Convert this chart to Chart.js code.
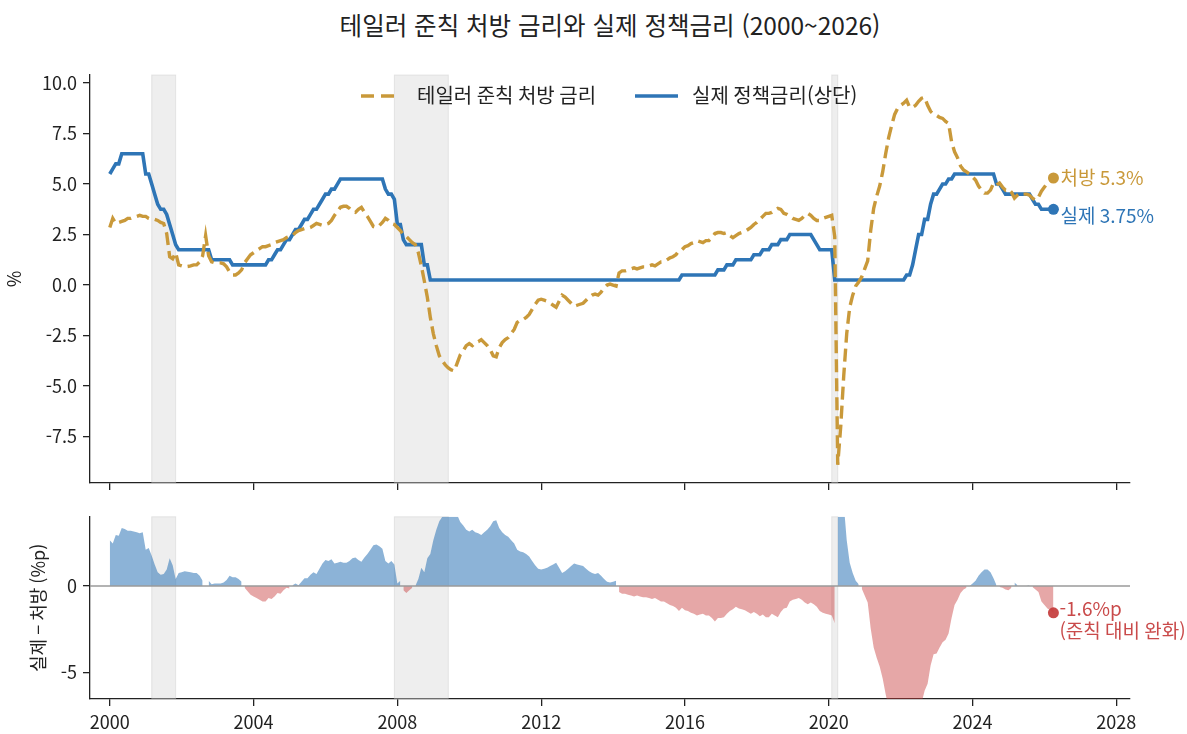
<!DOCTYPE html>
<html lang="ko">
<head>
<meta charset="UTF-8">
<title>테일러 준칙 처방 금리와 실제 정책금리</title>
<script src="https://cdn.jsdelivr.net/npm/chart.js"></script>
<style>
body {
    margin: 0;
    background: #fff;
    font-family: "Noto Sans CJK KR", sans-serif;
}

#wrap {
    position: relative;
    width: 1187px;
    height: 734px;
}

#title {
    position: absolute;
    top: 10px;
    left: 0;
    width: 1220px;
    text-align: center;
    font-size: 24.5px;
    line-height: 30px;
    color: #222;
}

canvas {
    position: absolute;
    left: 0;
}

#rateChart { top: 0; }
#gapChart { top: 500px; }
</style>
</head>
<body>
<div id="wrap">
    <div id="title">테일러 준칙 처방 금리와 실제 정책금리 (2000~2026)</div>
    <canvas id="rateChart" width="1187" height="500"></canvas>
    <canvas id="gapChart" width="1187" height="234"></canvas>
</div>

<script>
// monthly data, Jan 2000 .. Apr 2026
const startYear = 2000;

// fed funds target (upper bound), %
const actualRate = [
    5.5, 5.75, 6.0, 6.0, 6.5, 6.5, 6.5, 6.5, 6.5, 6.5, 6.5, 6.5,
    5.5, 5.5, 5.0, 4.5, 4.0, 3.75, 3.75, 3.5, 3.0, 2.5, 2.0, 1.75,
    1.75, 1.75, 1.75, 1.75, 1.75, 1.75, 1.75, 1.75, 1.75, 1.75, 1.25, 1.25,
    1.25, 1.25, 1.25, 1.25, 1.25, 1.0, 1.0, 1.0, 1.0, 1.0, 1.0, 1.0,
    1.0, 1.0, 1.0, 1.0, 1.0, 1.25, 1.25, 1.5, 1.75, 1.75, 2.0, 2.25,
    2.25, 2.5, 2.75, 2.75, 3.0, 3.25, 3.25, 3.5, 3.75, 3.75, 4.0, 4.25,
    4.5, 4.5, 4.75, 4.75, 5.0, 5.25, 5.25, 5.25, 5.25, 5.25, 5.25, 5.25,
    5.25, 5.25, 5.25, 5.25, 5.25, 5.25, 5.25, 5.25, 4.75, 4.5, 4.5, 4.25,
    3.0, 3.0, 2.25, 2.0, 2.0, 2.0, 2.0, 2.0, 2.0, 1.0, 1.0, 0.25,
    0.25, 0.25, 0.25, 0.25, 0.25, 0.25, 0.25, 0.25, 0.25, 0.25, 0.25, 0.25,
    0.25, 0.25, 0.25, 0.25, 0.25, 0.25, 0.25, 0.25, 0.25, 0.25, 0.25, 0.25,
    0.25, 0.25, 0.25, 0.25, 0.25, 0.25, 0.25, 0.25, 0.25, 0.25, 0.25, 0.25,
    0.25, 0.25, 0.25, 0.25, 0.25, 0.25, 0.25, 0.25, 0.25, 0.25, 0.25, 0.25,
    0.25, 0.25, 0.25, 0.25, 0.25, 0.25, 0.25, 0.25, 0.25, 0.25, 0.25, 0.25,
    0.25, 0.25, 0.25, 0.25, 0.25, 0.25, 0.25, 0.25, 0.25, 0.25, 0.25, 0.25,
    0.25, 0.25, 0.25, 0.25, 0.25, 0.25, 0.25, 0.25, 0.25, 0.25, 0.25, 0.5,
    0.5, 0.5, 0.5, 0.5, 0.5, 0.5, 0.5, 0.5, 0.5, 0.5, 0.5, 0.75,
    0.75, 0.75, 1.0, 1.0, 1.0, 1.25, 1.25, 1.25, 1.25, 1.25, 1.25, 1.5,
    1.5, 1.5, 1.75, 1.75, 1.75, 2.0, 2.0, 2.0, 2.25, 2.25, 2.25, 2.5,
    2.5, 2.5, 2.5, 2.5, 2.5, 2.5, 2.5, 2.25, 2.0, 1.75, 1.75, 1.75,
    1.75, 1.75, 0.25, 0.25, 0.25, 0.25, 0.25, 0.25, 0.25, 0.25, 0.25, 0.25,
    0.25, 0.25, 0.25, 0.25, 0.25, 0.25, 0.25, 0.25, 0.25, 0.25, 0.25, 0.25,
    0.25, 0.25, 0.5, 0.5, 1.0, 1.75, 2.5, 2.5, 3.25, 3.25, 4.0, 4.5,
    4.5, 4.75, 5.0, 5.0, 5.25, 5.25, 5.5, 5.5, 5.5, 5.5, 5.5, 5.5,
    5.5, 5.5, 5.5, 5.5, 5.5, 5.5, 5.5, 5.5, 5.0, 5.0, 4.75, 4.5,
    4.5, 4.5, 4.5, 4.5, 4.5, 4.5, 4.5, 4.5, 4.25, 4.0, 4.0, 3.75,
    3.75, 3.75, 3.75, 3.75
];

// taylor rule prescription, %
const taylorRate = [
    2.85, 3.3, 3.05, 3.1, 3.15, 3.2, 3.3, 3.3, 3.35, 3.4, 3.45, 3.4,
    3.4, 3.3, 3.25, 3.25, 3.2, 3.1, 3.05, 2.55, 1.4, 1.3, 1.6, 1.0,
    0.95, 0.9, 0.92, 0.95, 1.0, 1.0, 1.15, 1.45, 2.45, 1.45, 1.15, 1.1,
    1.1, 1.1, 1.05, 0.9, 0.65, 0.5, 0.5, 0.6, 0.75, 1.1, 1.3, 1.5,
    1.6, 1.7, 1.8, 1.9, 1.9, 1.95, 2.0, 2.1, 2.15, 2.2, 2.25, 2.35,
    2.4, 2.45, 2.6, 2.7, 2.75, 2.8, 2.8, 2.85, 2.95, 3.05, 3.0, 2.95,
    3.0, 3.05, 3.2, 3.45, 3.65, 3.85, 3.9, 3.9, 3.8, 3.65, 3.6, 3.75,
    3.85, 3.6, 3.4, 3.15, 2.9, 2.85, 2.95, 3.1, 3.3, 3.2, 3.05, 3.0,
    2.85, 2.7, 2.5, 2.4, 2.25, 2.1, 2.0, 1.6, 0.95, 0.2, -0.6, -1.6,
    -2.4, -3.0, -3.5, -3.75, -3.95, -4.1, -4.2, -4.25, -3.85, -3.45, -3.25, -3.0,
    -2.9, -3.0, -2.85, -2.8, -2.7, -2.85, -3.0, -3.2, -3.5, -3.55, -3.1, -2.85,
    -2.7, -2.6, -2.4, -2.2, -1.85, -1.75, -1.7, -1.6, -1.45, -1.2, -0.95, -0.75,
    -0.7, -0.75, -0.8, -0.9, -1.0, -1.1, -0.8, -0.5, -0.6, -0.75, -0.9, -1.05,
    -1.0, -0.95, -0.9, -0.75, -0.6, -0.5, -0.45, -0.5, -0.35, -0.15, 0.0, 0.05,
    0.0, -0.05, 0.6, 0.7, 0.7, 0.75, 0.8, 0.85, 0.8, 0.85, 0.9, 0.9,
    0.95, 1.0, 0.95, 1.05, 1.15, 1.15, 1.25, 1.35, 1.4, 1.5, 1.7, 1.75,
    1.9, 1.95, 2.05, 2.1, 2.2, 2.15, 2.1, 2.2, 2.2, 2.35, 2.55, 2.6,
    2.6, 2.55, 2.6, 2.45, 2.35, 2.45, 2.55, 2.6, 2.65, 2.75, 2.85, 3.0,
    3.1, 3.25, 3.4, 3.55, 3.55, 3.6, 3.7, 3.8, 3.75, 3.55, 3.5, 3.4,
    3.3, 3.25, 3.2, 3.3, 3.45, 3.55, 3.45, 3.3, 3.2, 3.2, 3.3, 3.35,
    3.4, 3.45, 2.4, -8.9, -7.0, -4.5, -2.4, -1.1, -0.5, -0.05, 0.15, 0.4,
    0.8, 1.2, 2.7, 3.8, 4.4, 4.9, 5.6, 6.5, 7.3, 7.9, 8.45, 8.75,
    8.9, 9.0, 9.15, 8.8, 8.8, 8.9, 9.1, 9.25, 9.3, 8.9, 8.6, 8.45,
    8.4, 8.3, 8.25, 8.1, 8.0, 7.1, 6.6, 6.3, 5.9, 5.7, 5.6, 5.5,
    5.35, 5.2, 4.9, 4.7, 4.55, 4.55, 4.7, 5.05, 4.95, 5.05, 4.85, 4.7,
    4.75, 4.6, 4.3, 4.45, 4.55, 4.5, 4.5, 4.45, 4.3, 4.2, 4.35, 4.65,
    4.85, 5.05, 5.15, 5.3
];

// NBER recessions (decimal years)
const recessionStart = [2001.167, 2007.917, 2020.083];
const recessionEnd = [2001.833, 2009.417, 2020.25];

const xMin = 1999.45;
const xMax = 2028.38;
const xTicks = [2000, 2004, 2008, 2012, 2016, 2020, 2024, 2028];
const rateTicks = [-7.5, -5, -2.5, 0, 2.5, 5, 7.5, 10];
const gapTicks = [-5, 0];

const seriesNames = ['테일러 준칙 처방 금리', '실제 정책금리(상단)'];
const endLabels = ['처방 5.3%', '실제 3.75%'];
const gapLabels = ['-1.6%p', '(준칙 대비 완화)'];

const GOLD = '#C9993A';
const BLUE = '#2E75B6';
const RED = '#C94A4A';
const INK = '#222';
const FONT = '"Noto Sans CJK KR", sans-serif';

Chart.defaults.font.family = FONT;
Chart.defaults.font.size = 18;
Chart.defaults.color = INK;

const xs = actualRate.map((_, i) => startYear + i / 12);
const gap = actualRate.map((v, i) => v - taylorRate[i]);
const toPoints = arr => arr.map((v, i) => ({ x: xs[i], y: v }));
const last = xs.length - 1;

const bands = {
    id: 'bands',
    beforeDatasetsDraw(chart) {
        const { ctx, chartArea: a, scales: { x } } = chart;
        ctx.save();
        ctx.fillStyle = 'rgba(205,205,205,0.35)';
        ctx.strokeStyle = 'rgba(190,190,190,0.35)';
        ctx.lineWidth = 1;
        recessionStart.forEach((s, i) => {
            const x0 = x.getPixelForValue(s);
            const x1 = x.getPixelForValue(recessionEnd[i]);
            ctx.fillRect(x0, a.top, x1 - x0, a.bottom - a.top);
            ctx.strokeRect(x0, a.top, x1 - x0, a.bottom - a.top);
        });
        ctx.restore();
    }
};

function axisTitle(ctx, text, x, y) {
    ctx.save();
    ctx.translate(x, y);
    ctx.rotate(-Math.PI / 2);
    ctx.textAlign = 'center';
    ctx.textBaseline = 'middle';
    ctx.fillStyle = INK;
    ctx.font = '18px ' + FONT;
    ctx.fillText(text, 0, 0);
    ctx.restore();
}

const rateExtras = {
    id: 'rateExtras',
    afterDraw(chart) {
        const { ctx, chartArea: a, scales: { x, y } } = chart;
        ctx.save();
        // legend
        ctx.lineWidth = 3.4;
        ctx.strokeStyle = GOLD;
        ctx.setLineDash([13, 7]);
        ctx.beginPath(); ctx.moveTo(361, 96); ctx.lineTo(397, 96); ctx.stroke();
        ctx.setLineDash([]);
        ctx.strokeStyle = BLUE;
        ctx.beginPath(); ctx.moveTo(635, 96); ctx.lineTo(678, 96); ctx.stroke();
        ctx.font = '20px ' + FONT;
        ctx.fillStyle = INK;
        ctx.textBaseline = 'middle';
        ctx.fillText(seriesNames[0], 417, 95);
        ctx.fillText(seriesNames[1], 692, 95);

        // end labels
        const px = x.getPixelForValue(xs[last]);
        ctx.font = '19px ' + FONT;
        ctx.fillStyle = GOLD;
        ctx.fillText(endLabels[0], px + 7, y.getPixelForValue(taylorRate[last]));
        ctx.fillStyle = BLUE;
        ctx.fillText(endLabels[1], px + 7, y.getPixelForValue(actualRate[last]) + 6);
        ctx.restore();

        axisTitle(ctx, '%', 14, (a.top + a.bottom) / 2);
    }
};

const gapExtras = {
    id: 'gapExtras',
    afterDatasetsDraw(chart) {
        const { ctx, chartArea: a, scales: { y } } = chart;
        const y0 = y.getPixelForValue(0);
        ctx.save();
        ctx.strokeStyle = '#9a9a9a';
        ctx.lineWidth = 1.5;
        ctx.beginPath(); ctx.moveTo(a.left, y0); ctx.lineTo(a.right, y0); ctx.stroke();
        ctx.restore();
    },
    afterDraw(chart) {
        const { ctx, chartArea: a, scales: { x, y } } = chart;
        const px = x.getPixelForValue(xs[last]);
        const py = y.getPixelForValue(gap[last]);
        ctx.save();
        ctx.font = '19px ' + FONT;
        ctx.fillStyle = RED;
        ctx.textBaseline = 'middle';
        ctx.fillText(gapLabels[0], px + 6, py - 4);
        ctx.fillText(gapLabels[1], px + 6, py + 18);
        ctx.restore();

        axisTitle(ctx, '실제 − 처방 (%p)', 38, (a.top + a.bottom) / 2);
    }
};

const axisLine = { display: true, color: INK, width: 1.3 };
const tickMarks = { drawOnChartArea: false, drawTicks: true, tickLength: 7, color: INK, lineWidth: 1.3 };

function xScale(showLabels, height) {
    return {
        type: 'linear',
        min: xMin,
        max: xMax,
        afterBuildTicks: s => { s.ticks = xTicks.map(v => ({ value: v })); },
        afterFit: s => { s.height = height; },
        ticks: { display: showLabels, padding: 5, callback: v => String(v) },
        grid: tickMarks,
        border: axisLine
    };
}

function yScale(min, max, ticks, fmt) {
    return {
        min: min,
        max: max,
        afterBuildTicks: s => { s.ticks = ticks.map(v => ({ value: v })); },
        afterFit: s => { s.width = 90; },
        ticks: { padding: 6, callback: fmt },
        grid: tickMarks,
        border: axisLine
    };
}

const common = {
    responsive: false,
    animation: false,
    devicePixelRatio: 1,
    events: [],
    plugins: { legend: { display: false }, tooltip: { enabled: false } }
};

new Chart(document.getElementById('rateChart'), {
    type: 'line',
    data: {
        datasets: [
            {
                label: seriesNames[0],
                data: toPoints(taylorRate),
                borderColor: GOLD,
                borderWidth: 3.4,
                borderDash: [13, 6],
                pointRadius: 0,
                fill: false
            },
            {
                label: seriesNames[1],
                data: toPoints(actualRate),
                borderColor: BLUE,
                borderWidth: 3.6,
                pointRadius: 0,
                fill: false
            },
            {
                data: [{ x: xs[last], y: taylorRate[last] }, { x: xs[last], y: actualRate[last] }],
                showLine: false,
                pointRadius: 5.5,
                pointBorderWidth: 0,
                pointBackgroundColor: [GOLD, BLUE]
            }
        ]
    },
    options: {
        ...common,
        layout: { padding: { top: 75, right: 57, bottom: 0, left: 0 } },
        scales: {
            x: xScale(false, 17),
            y: yScale(-9.8, 10.4, rateTicks, v => v.toFixed(1))
        }
    },
    plugins: [bands, rateExtras]
});

new Chart(document.getElementById('gapChart'), {
    type: 'line',
    data: {
        datasets: [
            {
                data: toPoints(gap.map(v => (v >= 0 ? v : null))),
                borderWidth: 0,
                pointRadius: 0,
                backgroundColor: 'rgba(46,117,182,0.55)',
                fill: 'origin'
            },
            {
                data: toPoints(gap.map(v => (v < 0 ? v : null))),
                borderWidth: 0,
                pointRadius: 0,
                backgroundColor: 'rgba(200,60,60,0.45)',
                fill: 'origin'
            },
            {
                data: [{ x: xs[last], y: gap[last] }],
                showLine: false,
                pointRadius: 5.5,
                pointBorderWidth: 0,
                pointBackgroundColor: RED
            }
        ]
    },
    options: {
        ...common,
        layout: { padding: { top: 13, right: 57, bottom: 0, left: 0 } },
        scales: {
            x: xScale(true, 35),
            y: yScale(-6.53, 4.0, gapTicks, v => String(v))
        }
    },
    plugins: [bands, gapExtras]
});
</script>
</body>
</html>
